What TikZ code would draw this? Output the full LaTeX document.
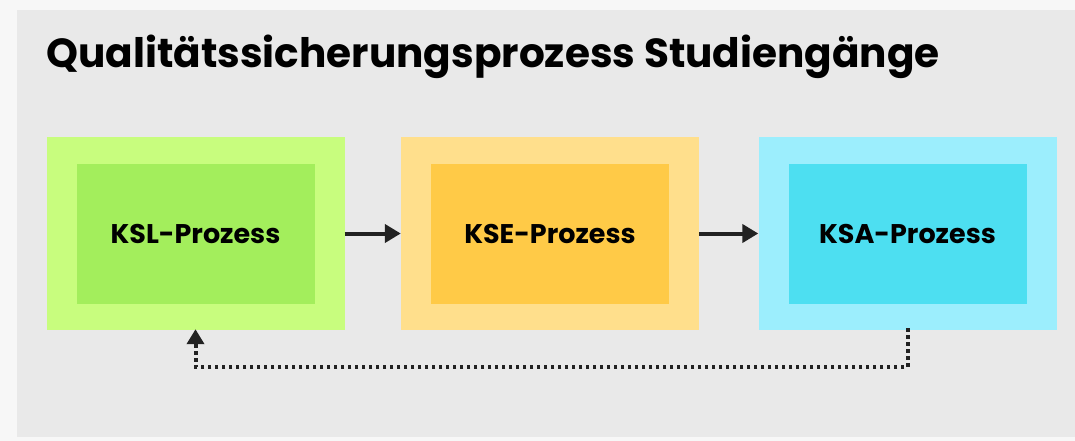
\documentclass[tikz,border=0pt]{standalone}
\usepackage{fontspec}
\setmainfont{Poppins}
\usetikzlibrary{arrows.meta,positioning}
\definecolor{pagebg}{HTML}{F7F7F7}
\definecolor{panelbg}{HTML}{E9E9E9}
\definecolor{greenout}{HTML}{C8FD7E}
\definecolor{greenin}{HTML}{A3EE5C}
\definecolor{orangeout}{HTML}{FFDF8C}
\definecolor{orangein}{HTML}{FFCA47}
\definecolor{blueout}{HTML}{9CEEFD}
\definecolor{bluein}{HTML}{4DDFF1}
\definecolor{ink}{HTML}{222222}
\tikzset{
  outerbox/.style={draw=none,minimum width=298pt,minimum height=193pt,inner sep=0pt},
  innerbox/.style={draw=none,minimum width=238pt,minimum height=140pt,inner sep=0pt,
    font=\fontsize{27}{32}\selectfont\bfseries},
  flow/.style={draw=ink,line width=4pt,-{Triangle[length=16pt,width=18pt]}},
  back/.style={draw=ink,line width=4pt,dash pattern=on 3.4pt off 3.6pt,
    -{Triangle[length=15pt,width=17pt]}}
}
\begin{document}
\begin{tikzpicture}[x=1pt,y=-1pt]
  % page and panel
  \fill[pagebg] (0,0) rectangle (1075,441);
  \fill[panelbg] (17,10) rectangle (1075,437);
  \useasboundingbox (0,0) rectangle (1075,441);

  % heading
  \node[anchor=base west,inner sep=0pt,font=\fontsize{40.6}{50}\selectfont\bfseries]
    (title) at (46,68) {Qualitätssicherungsprozess Studiengänge};

  % process stages
  \node[outerbox,fill=greenout]  (ksl) at (195.5,233.5) {};
  \node[innerbox,fill=greenin]   (kslin) at (ksl.center) {KSL-Prozess};
  \node[outerbox,fill=orangeout] (kse) at (550,233.5) {};
  \node[innerbox,fill=orangein]  (ksein) at (kse.center) {KSE-Prozess};
  \node[outerbox,fill=blueout]   (ksa) at (907.5,233.5) {};
  \node[innerbox,fill=bluein]    (ksain) at (ksa.center) {KSA-Prozess};

  % forward flow
  \draw[flow] (ksl.east) -- (kse.west);
  \draw[flow] (kse.east) -- (ksa.west);

  % feedback loop
  \coordinate (loopy) at (0,367);
  \draw[back] ([yshift=2pt]ksa.south) |- (loopy -| ksl.south) -- ([yshift=1pt]ksl.south);
\end{tikzpicture}
\end{document}
